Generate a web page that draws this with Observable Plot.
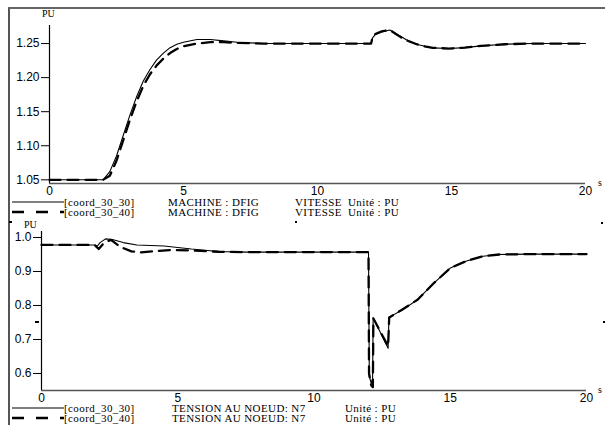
<!DOCTYPE html>
<html><head><meta charset="utf-8">
<script src="https://cdn.jsdelivr.net/npm/d3@7"></script>
<script src="https://cdn.jsdelivr.net/npm/@observablehq/plot@0.6"></script>
<style>
body{margin:0;background:#fff;}
#wrap{position:relative;width:605px;height:425px;overflow:hidden;background:#fff;}
.frame{position:absolute;left:8px;top:7px;width:597px;height:418px;border-left:2px solid #555;border-top:2px solid #666;box-sizing:border-box;}
.plotbox{position:absolute;left:0;}
.lg{position:absolute;font-family:"Liberation Serif",serif;font-size:11px;line-height:9px;letter-spacing:0.4px;white-space:pre;color:#000;}
.unit{position:absolute;font-family:"Liberation Serif",serif;font-size:10px;line-height:10px;color:#000;}
.dot{position:absolute;background:#000;}
</style></head>
<body><div id="wrap"><div class="frame"></div></div>
<script>
// ---------- data ----------
const xTicks = [0, 5, 10, 15, 20];
const speedTicks = [1.05, 1.10, 1.15, 1.20, 1.25];
const voltTicks = [0.6, 0.7, 0.8, 0.9, 1.0];
const speedDomain = [1.0446, 1.2765];
const voltDomain = [0.55, 1.0176];
const timeDomain = [0, 20];

const speedSolidT = [0, 2.0, 2.25, 2.5, 2.75, 3.0, 3.25, 3.5, 3.75, 4.0, 4.25, 4.5, 4.75, 5.0, 5.5, 6.0, 6.5, 7.0, 8.0, 9, 10, 11, 12.0, 12.05, 12.15, 12.4, 12.7, 13.0, 13.3, 13.7, 14.0, 14.3, 14.9, 15.5, 16.1, 17.0, 18, 19, 20];
const speedSolidV = [1.05, 1.05, 1.062, 1.085, 1.115, 1.145, 1.172, 1.195, 1.212, 1.226, 1.236, 1.244, 1.249, 1.252, 1.256, 1.256, 1.254, 1.252, 1.25, 1.25, 1.25, 1.25, 1.25, 1.258, 1.263, 1.267, 1.270, 1.263, 1.256, 1.249, 1.246, 1.2437, 1.2427, 1.244, 1.2466, 1.249, 1.25, 1.25, 1.25];
const speedDashT = [0, 2.0, 2.25, 2.5, 2.75, 3.0, 3.25, 3.5, 3.75, 4.0, 4.25, 4.5, 4.75, 5.0, 5.5, 6.0, 6.5, 7.0, 8.0, 9, 10, 11, 12.0, 12.05, 12.15, 12.4, 12.7, 13.0, 13.3, 13.7, 14.0, 14.3, 14.9, 15.5, 16.1, 17.0, 18, 19, 20];
const speedDashV = [1.05, 1.05, 1.056, 1.078, 1.108, 1.138, 1.165, 1.188, 1.205, 1.218, 1.228, 1.236, 1.242, 1.246, 1.25, 1.252, 1.252, 1.251, 1.25, 1.25, 1.25, 1.25, 1.25, 1.259, 1.264, 1.268, 1.270, 1.262, 1.255, 1.249, 1.246, 1.2437, 1.2427, 1.244, 1.2466, 1.249, 1.25, 1.25, 1.25];

const voltSolidT = [0, 1.95, 2.05, 2.15, 2.35, 2.6, 3.0, 3.5, 4.5, 5.5, 6.5, 7.5, 12.0, 12.03, 12.1, 12.15, 12.17, 12.72, 12.75, 13.2, 13.8, 14.4, 15.0, 15.6, 16.2, 16.8, 18, 20];
const voltSolidV = [0.978, 0.978, 0.975, 0.985, 0.996, 0.994, 0.985, 0.978, 0.975, 0.966, 0.959, 0.957, 0.957, 0.59, 0.572, 0.585, 0.764, 0.674, 0.765, 0.785, 0.817, 0.866, 0.91, 0.931, 0.945, 0.95, 0.951, 0.951];
const voltDashT = [0, 1.95, 2.1, 2.3, 2.55, 2.9, 3.3, 3.65, 4.2, 4.7, 5.5, 6.5, 7.5, 12.0, 12.02, 12.1, 12.16, 12.18, 12.72, 12.76, 13.2, 13.8, 14.4, 15.0, 15.6, 16.2, 16.8, 18, 20];
const voltDashV = [0.978, 0.978, 0.966, 0.985, 0.993, 0.972, 0.959, 0.956, 0.96, 0.963, 0.962, 0.958, 0.957, 0.957, 0.60, 0.565, 0.56, 0.762, 0.68, 0.765, 0.786, 0.817, 0.866, 0.91, 0.931, 0.945, 0.95, 0.951, 0.951];

const seriesNames = ["[coord_30_30]", "[coord_30_40]"];
const speedLegend = ["MACHINE : DFIG", "VITESSE", "Unité : PU"];
const voltLegend = ["TENSION AU NOEUD: N7", "Unité : PU"];
const unitY = "PU", unitX = "s";

// ---------- build ----------
const zip = (t, v) => t.map((x, i) => ({t: x, v: v[i]}));
const wrap = document.getElementById("wrap");
const style = {fontFamily: "Liberation Sans, Arial, sans-serif", fontSize: "12px", background: "transparent", overflow: "visible", color: "#000"};

function panel({top, height, mt, mb, ml, mr, domain, ticks, fmt, solid, dash}) {
  const p = Plot.plot({
    width: 605, height, marginTop: mt, marginBottom: mb, marginLeft: ml, marginRight: mr, style,
    x: {domain: timeDomain, ticks: xTicks, tickSize: 0, tickPadding: 3, label: null},
    y: {domain, ticks, tickFormat: fmt, tickSize: 8, tickPadding: 2, label: null},
    marks: [
      Plot.ruleX([timeDomain[0]], {stroke: "#000", strokeWidth: 1.2}),
      Plot.ruleY([domain[0]], {stroke: "#555", strokeWidth: 1.6}),
      Plot.line(solid, {x: "t", y: "v", stroke: "#000", strokeWidth: 1.1}),
      Plot.line(dash, {x: "t", y: "v", stroke: "#000", strokeWidth: 2.3, strokeDasharray: "11,7"})
    ]
  });
  const d = document.createElement("div");
  d.className = "plotbox"; d.style.top = top + "px";
  d.appendChild(p);
  wrap.appendChild(d);
}

panel({top: 0, height: 205, mt: 25, mb: 22, ml: 49, mr: 20, domain: speedDomain, ticks: speedTicks,
  fmt: d => d.toFixed(2), solid: zip(speedSolidT, speedSolidV), dash: zip(speedDashT, speedDashV)});
panel({top: 215, height: 210, mt: 16, mb: 35, ml: 41, mr: 19, domain: voltDomain, ticks: voltTicks,
  fmt: d => d.toFixed(1), solid: zip(voltSolidT, voltSolidV), dash: zip(voltDashT, voltDashV)});

function addText(cls, txt, left, top) {
  const e = document.createElement("div");
  e.className = cls; e.textContent = txt;
  e.style.left = left + "px"; e.style.top = top + "px";
  wrap.appendChild(e);
}
function addSample(top, dashed) {
  const ns = "http://www.w3.org/2000/svg";
  const s = document.createElementNS(ns, "svg");
  s.setAttribute("width", 52); s.setAttribute("height", 6);
  s.style.position = "absolute"; s.style.left = "12px"; s.style.top = (top - 3) + "px";
  const l = document.createElementNS(ns, "line");
  l.setAttribute("x1", 0); l.setAttribute("x2", 52); l.setAttribute("y1", 3); l.setAttribute("y2", 3);
  l.setAttribute("stroke", "#000");
  l.setAttribute("stroke-width", dashed ? 2.3 : 1.1);
  if (dashed) l.setAttribute("stroke-dasharray", "12,12");
  s.appendChild(l);
  wrap.appendChild(s);
}

// legends
[202, 212].forEach((y, i) => {
  addSample(y, i === 1);
  addText("lg", seriesNames[i], 64, y - 4);
  addText("lg", speedLegend[0], 168, y - 4);
  addText("lg", speedLegend[1], 295, y - 4);
  addText("lg", speedLegend[2], 348, y - 4);
});
[408, 418].forEach((y, i) => {
  addSample(y, i === 1);
  addText("lg", seriesNames[i], 64, y - 4);
  addText("lg", voltLegend[0], 172, y - 4);
  addText("lg", voltLegend[1], 345, y - 4);
});
// unit labels
addText("unit", unitY, 42, 9);
addText("unit", unitY, 24, 220);
addText("unit", unitX, 598, 178);
addText("unit", unitX, 598, 385);
// stray marks of original software
[[9, 221, 3, 2], [295, 221, 2, 2], [601, 222, 2, 2], [35, 321, 4, 2], [603, 321, 2, 2]].forEach(([x, y, w, h]) => {
  const e = document.createElement("div"); e.className = "dot";
  e.style.left = x + "px"; e.style.top = y + "px"; e.style.width = w + "px"; e.style.height = h + "px";
  wrap.appendChild(e);
});
</script></body></html>
